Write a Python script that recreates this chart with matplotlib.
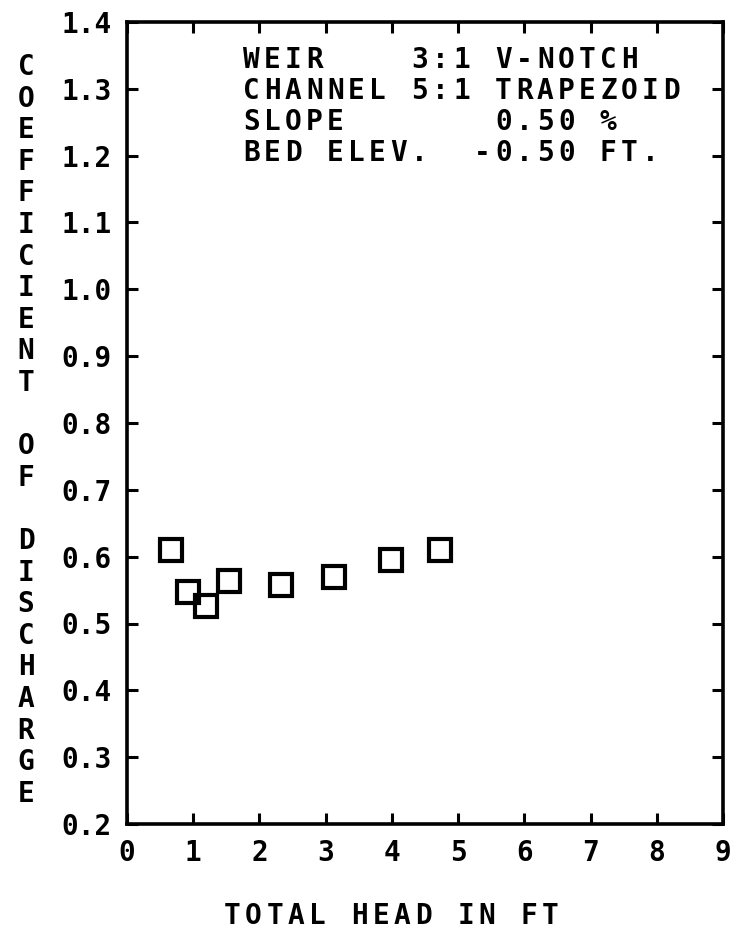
import matplotlib
matplotlib.use("Agg")
import matplotlib.pyplot as plt

# data
head_ft = [0.67, 0.92, 1.20, 1.54, 2.32, 3.12, 3.98, 4.72]
coef_discharge = [0.610, 0.547, 0.526, 0.563, 0.557, 0.570, 0.595, 0.610]

x_ticks = list(range(0, 10))
y_ticks = [0.2, 0.3, 0.4, 0.5, 0.6, 0.7, 0.8, 0.9, 1.0, 1.1, 1.2, 1.3, 1.4]
y_labels = [f"{v:.1f}" for v in y_ticks]

info_lines = [
    "WEIR    3:1 V-NOTCH",
    "CHANNEL 5:1 TRAPEZOID",
    "SLOPE       0.50 %",
    "BED ELEV.  -0.50 FT.",
]
ylabel_words = ["COEFFICIENT", "OF", "DISCHARGE"]
xlabel_text = "TOTAL HEAD IN FT"

FONT = "DejaVu Sans Mono"
W, H = 732, 933


def put_spaced(fig, x0, y, s, adv, size):
    # plotter font: fixed character pitch in pixels
    for i, ch in enumerate(s):
        if ch == " ":
            continue
        fig.text((x0 + i * adv) / W, 1 - y / H, ch, family=FONT, fontsize=size,
                 weight="bold", ha="left", va="center")


def main():
    fig = plt.figure(figsize=(W / 100, H / 100), dpi=100)
    ax = fig.add_axes([127 / W, 1 - 824 / H, (723 - 127) / W, (824 - 22) / H])

    ax.plot(head_ft, coef_discharge, linestyle="none", marker="s", markersize=16.5,
            markerfacecolor="none", markeredgecolor="black", markeredgewidth=3.0,
            clip_on=False)

    ax.set_xlim(0, 9)
    ax.set_ylim(0.2, 1.4)
    ax.set_xticks(x_ticks)
    ax.set_yticks(y_ticks)
    ax.set_yticklabels(y_labels)
    ax.tick_params(direction="in", length=8, width=2.2, top=True, right=True,
                   labelsize=20, pad=11)
    for lab in ax.get_xticklabels() + ax.get_yticklabels():
        lab.set_family(FONT)
        lab.set_weight("bold")
    for sp in ax.spines.values():
        sp.set_linewidth(2.6)

    # info block in upper part of the plot
    for k, line in enumerate(info_lines):
        put_spaced(fig, 243, 60 + k * 31, line, 21, 20)

    # stacked vertical y label
    rows = []
    for w in ylabel_words:
        rows += list(w) + [""]
    for k, ch in enumerate(rows[:-1]):
        if ch:
            fig.text(26 / W, 1 - (67 + k * 31.6) / H, ch, family=FONT, fontsize=20,
                     weight="bold", ha="center", va="center")

    put_spaced(fig, 224, 916, xlabel_text, 21.2, 20)

    fig.savefig("out.png", dpi=100)


if __name__ == "__main__":
    main()
